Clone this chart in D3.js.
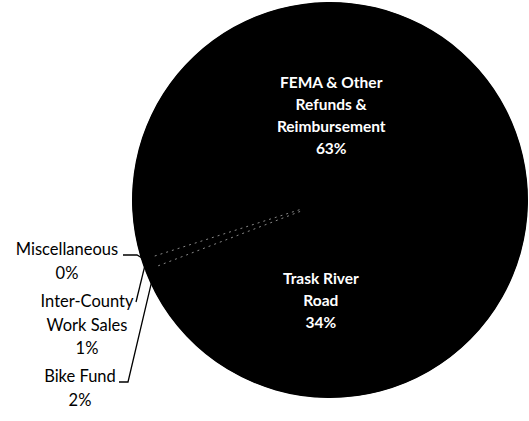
<!DOCTYPE html>
<html>
<head>
<meta charset="utf-8">
<script src="https://cdn.jsdelivr.net/npm/d3@7"></script>
<style>
  body { margin: 0; background: #fff; }
  svg { display: block; font-family: Lato, "Open Sans", sans-serif; }
</style>
</head>
<body>
<svg></svg>
<script>
// slices in drawing order, clockwise from the first slice angle
const categories = ["FEMA & Other Refunds & Reimbursement", "Trask River Road", "Bike Fund", "Inter-County Work Sales", "Miscellaneous"];
const values = [62.9, 34.0, 2.0, 0.9, 0.2];
const percentLabels = ["63%", "34%", "2%", "1%", "0%"];
const labelLines = [
  ["FEMA & Other", "Refunds &", "Reimbursement"],
  ["Trask River", "Road"],
  ["Bike Fund"],
  ["Inter-County", "Work Sales"],
  ["Miscellaneous"]
];

const width = 529;
const height = 421;
const cx = 330, cy = 200, r = 198;
const firstAngle = 253 * Math.PI / 180;

const svg = d3.select("svg")
  .attr("width", width)
  .attr("height", height)
  .attr("viewBox", [0, 0, width, height]);

const data = categories.map((c, i) => ({ name: c, value: values[i], pct: percentLabels[i], lines: labelLines[i] }));

const pie = d3.pie()
  .sort(null)
  .value(d => d.value)
  .startAngle(firstAngle)
  .endAngle(firstAngle + 2 * Math.PI);

const arcs = pie(data);
const arc = d3.arc().innerRadius(0).outerRadius(r);
const edge = d3.arc().innerRadius(r - 2).outerRadius(r - 2);

const g = svg.append("g").attr("transform", `translate(${cx},${cy})`);

// backing disc so the black slices show no seams
g.append("circle").attr("r", r - 0.5).attr("fill", "#000");

g.selectAll("path.slice")
  .data(arcs)
  .join("path")
  .attr("class", "slice")
  .attr("d", arc)
  .attr("fill", "#000");

// faint scanned borders only show round the thin slices
const polar = (a, d) => [d * Math.sin(a), -d * Math.cos(a)];
g.selectAll("path.edge")
  .data(arcs.slice(2, 4))
  .join("path")
  .attr("class", "edge")
  .attr("d", d => d3.line()([polar(d.endAngle, 32), polar(d.endAngle, r - 14)]))
  .attr("stroke", "#aaa")
  .attr("stroke-width", 0.8)
  .attr("stroke-dasharray", "2,4");

// labels inside the two big slices
const lineH = 22;
const innerRadius = [0.43, 0.51];
const inner = arcs.slice(0, 2);
const mid = d3.arc().innerRadius(r).outerRadius(r);
const innerG = g.selectAll("g.inner")
  .data(inner)
  .join("g")
  .attr("class", "inner")
  .attr("transform", (d, i) => {
    const [x, y] = mid.centroid(d);
    return `translate(${x * innerRadius[i] - 8},${y * innerRadius[i]})`;
  });

innerG.each(function (d) {
  const rows = d.data.lines.concat([d.data.pct]);
  const t = d3.select(this).append("text")
    .attr("text-anchor", "middle")
    .attr("fill", "#fff")
    .attr("font-size", 15.5)
    .attr("font-weight", "bold");
  rows.forEach((s, i) => {
    t.append("tspan")
      .attr("x", 0)
      .attr("y", (i - (rows.length - 1) / 2) * lineH)
      .attr("dy", "0.35em")
      .text(s);
  });
});

// outside labels for the small slices: text block centre and leader elbow
const outsideLayout = {
  "Miscellaneous": { x: 67, y: 261, elbow: [[123, 255], [137, 255]] },
  "Inter-County Work Sales": { x: 87, y: 325, elbow: [[136, 302]] },
  "Bike Fund": { x: 80, y: 388, elbow: [[119, 382], [128, 382]] }
};

const outer = arcs.slice(2);
outer.forEach(d => {
  const lay = outsideLayout[d.data.name];
  const [ex, ey] = edge.centroid(d);
  const pts = lay.elbow.concat([[ex + cx, ey + cy]]);
  svg.append("path")
    .attr("d", d3.line()(pts))
    .attr("fill", "none")
    .attr("stroke", "#000")
    .attr("stroke-width", 1.3);

  const rows = d.data.lines.concat([d.data.pct]);
  const t = svg.append("text")
    .attr("text-anchor", "middle")
    .attr("fill", "#000")
    .attr("font-size", 16.5);
  rows.forEach((s, i) => {
    t.append("tspan")
      .attr("x", lay.x)
      .attr("y", lay.y + (i - (rows.length - 1) / 2) * 23.5)
      .attr("dy", "0.35em")
      .text(s);
  });
});
</script>
</body>
</html>
